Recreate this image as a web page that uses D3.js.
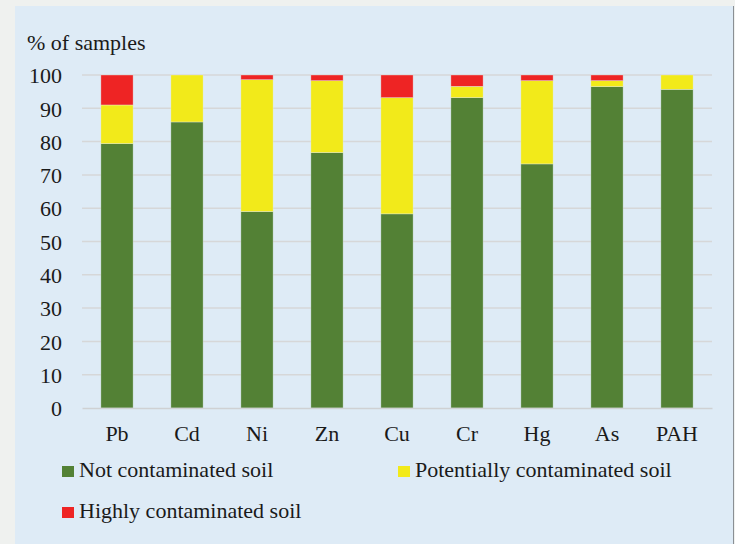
<!DOCTYPE html>
<html>
<head>
<meta charset="utf-8">
<script src="https://cdn.jsdelivr.net/npm/d3@7"></script>
<style>
  html, body { margin: 0; padding: 0; background: #eff1ef; }
  svg { display: block; }
</style>
</head>
<body>
<div id="chart"></div>
<script>
let elements = ["Pb", "Cd", "Ni", "Zn", "Cu", "Cr", "Hg", "As", "PAH"];
let notContaminated = [79.4, 85.9, 59.0, 76.7, 58.3, 93.2, 73.3, 96.5, 95.7];
let potentiallyContaminated = [11.6, 14.1, 39.6, 21.6, 34.9, 3.4, 25.0, 1.8, 4.3];
let highlyContaminated = [9.0, 0, 1.4, 1.7, 6.8, 3.4, 1.7, 1.7, 0];
let seriesNames = ["Not contaminated soil", "Potentially contaminated soil", "Highly contaminated soil"];
let seriesColors = ["#538135", "#f2ea1a", "#ee2424"];
let yTicks = [0, 10, 20, 30, 40, 50, 60, 70, 80, 90, 100];

const fontFamily = "'Liberation Serif', 'Tinos', 'Times New Roman', 'DejaVu Serif', serif";
const fontSize = "22px";

function drawChart() {
  let width = 735, height = 544;
  let margin = {top: 75, right: 23, bottom: 136, left: 82};

  let svg = d3.select("#chart")
    .append("svg")
    .attr("width", width)
    .attr("height", height)
    .style("font-family", fontFamily);

  // panel background
  svg.append("rect")
    .attr("x", 15).attr("y", 6)
    .attr("width", 718).attr("height", height - 6)
    .attr("fill", "#deebf6");
  svg.append("line")
    .attr("x1", 733.5).attr("x2", 733.5)
    .attr("y1", 6).attr("y2", height)
    .attr("stroke", "#8a8f94").attr("stroke-width", 1);

  let xScale = d3.scaleBand()
    .domain(elements)
    .range([margin.left, width - margin.right])
    .paddingInner(0.54)
    .paddingOuter(0.27);

  let yScale = d3.scaleLinear()
    .domain([0, 100])
    .range([height - margin.bottom, margin.top]);

  // gridlines
  svg.append("g")
    .selectAll("line")
    .data(yTicks.filter(d => d > 0))
    .enter()
    .append("line")
    .attr("x1", margin.left)
    .attr("x2", width - margin.right)
    .attr("y1", d => yScale(d))
    .attr("y2", d => yScale(d))
    .attr("stroke", "#d6d7d8")
    .attr("stroke-width", 1.5);

  let yAxis = svg.append("g")
    .attr("transform", "translate(" + margin.left + ",0)")
    .call(d3.axisLeft(yScale).tickValues(yTicks).tickSize(0).tickPadding(20));
  yAxis.attr("font-family", null).attr("font-size", null);
  yAxis.select(".domain").remove();
  yAxis.selectAll("text")
    .style("font-family", fontFamily)
    .style("font-size", fontSize)
    .attr("fill", "#1a1a1a")
    .attr("dy", "0.35em");

  // stacked bars
  let rows = elements.map((e, i) => ({
    element: e,
    s0: notContaminated[i],
    s1: potentiallyContaminated[i],
    s2: highlyContaminated[i]
  }));
  let stacked = d3.stack().keys(["s0", "s1", "s2"])(rows);

  svg.append("g")
    .selectAll("g")
    .data(stacked)
    .enter()
    .append("g")
    .attr("fill", (d, i) => seriesColors[i])
    .selectAll("rect")
    .data(d => d.filter(v => v[1] - v[0] > 0))
    .enter()
    .append("rect")
    .attr("x", d => xScale(d.data.element))
    .attr("width", xScale.bandwidth())
    .attr("y", d => yScale(d[1]))
    .attr("height", d => yScale(d[0]) - yScale(d[1]))
    .attr("stroke", "#e6eef0")
    .attr("stroke-opacity", 0.6)
    .attr("stroke-width", 0.6);

  // x axis
  let xAxis = svg.append("g")
    .attr("transform", "translate(0," + (height - margin.bottom) + ")")
    .call(d3.axisBottom(xScale).tickSize(0).tickPadding(17));
  xAxis.attr("font-family", null).attr("font-size", null);
  xAxis.select(".domain")
    .attr("stroke", "#cfd1d3")
    .attr("stroke-width", 1.5);
  xAxis.selectAll("text")
    .style("font-family", fontFamily)
    .style("font-size", fontSize)
    .attr("fill", "#1a1a1a");

  svg.append("text")
    .attr("x", 27)
    .attr("y", 50)
    .style("font-size", fontSize)
    .attr("fill", "#1a1a1a")
    .text("% of samples");

  // legend
  let legendPos = [[62, 466], [398, 466], [62, 507]];
  let legend = svg.append("g")
    .selectAll("g")
    .data(seriesNames)
    .enter()
    .append("g")
    .attr("transform", (d, i) => "translate(" + legendPos[i][0] + "," + legendPos[i][1] + ")");
  legend.append("rect")
    .attr("width", 12).attr("height", 11)
    .attr("fill", (d, i) => seriesColors[i]);
  legend.append("text")
    .attr("x", 17)
    .attr("y", 11)
    .style("font-size", fontSize)
    .attr("fill", "#1a1a1a")
    .text(d => d);
}

drawChart();
</script>
</body>
</html>
